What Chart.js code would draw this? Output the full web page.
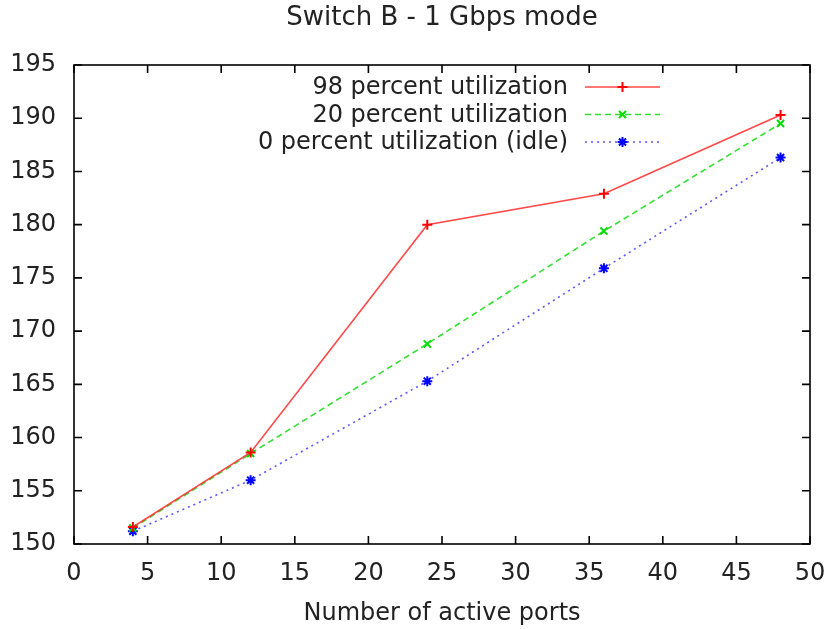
<!DOCTYPE html>
<html>
<head>
<meta charset="utf-8">
<script src="https://cdn.jsdelivr.net/npm/chart.js"></script>
<style>
  body { margin: 0; background: #fff; }
  #wrap { width: 830px; height: 629px; }
</style>
</head>
<body>
<div id="wrap"><canvas id="chart" width="830" height="629"></canvas></div>
<script>
// Données
const ports = [4, 12, 24, 36, 48];
const util98 = [151.6, 158.6, 180.0, 182.9, 190.3];
const util20 = [151.5, 158.5, 168.8, 179.4, 189.5];
const util0 = [151.2, 156.0, 165.3, 175.9, 186.3];
const seriesLabels = ['98 percent utilization', '20 percent utilization', '0 percent utilization (idle)'];
const titleText = 'Switch B - 1 Gbps mode';
const xTitle = 'Number of active ports';

const FONT = 'DejaVu Sans';
const TEXT_COLOR = '#222';

function toPoints(values) {
    return ports.map((p, i) => ({ x: p, y: values[i] }));
}

// Dessin d'un marqueur façon gnuplot (+, x, *)
function drawMarker(ctx, style, x, y, r, color) {
    ctx.save();
    ctx.strokeStyle = color;
    ctx.lineWidth = 2;
    ctx.setLineDash([]);
    ctx.beginPath();
    if (style === 'cross' || style === 'star') {
        ctx.moveTo(x - r, y); ctx.lineTo(x + r, y);
        ctx.moveTo(x, y - r); ctx.lineTo(x, y + r);
    }
    if (style === 'crossRot' || style === 'star') {
        const d = r * Math.SQRT1_2;
        ctx.moveTo(x - d, y - d); ctx.lineTo(x + d, y + d);
        ctx.moveTo(x - d, y + d); ctx.lineTo(x + d, y - d);
    }
    ctx.stroke();
    ctx.restore();
}

// Titre centré sur la zone de tracé (comme gnuplot)
const titlePlugin = {
    id: 'plotTitle',
    afterDraw(chart) {
        const { ctx, chartArea: a } = chart;
        ctx.save();
        ctx.font = `26px "${FONT}"`;
        ctx.fillStyle = TEXT_COLOR;
        ctx.textAlign = 'center';
        ctx.textBaseline = 'middle';
        ctx.fillText(titleText, (a.left + a.right) / 2, 18);
        ctx.restore();
    }
};

// Cadre et graduations intérieures (sur les 4 côtés)
const framePlugin = {
    id: 'frame',
    afterDraw(chart) {
        const { ctx, chartArea: a, scales } = chart;
        const tl = 8;
        ctx.save();
        ctx.strokeStyle = '#000';
        ctx.lineWidth = 1.6;
        ctx.strokeRect(a.left, a.top, a.right - a.left, a.bottom - a.top);
        ctx.beginPath();
        scales.x.ticks.forEach(t => {
            const px = scales.x.getPixelForValue(t.value);
            ctx.moveTo(px, a.bottom); ctx.lineTo(px, a.bottom - tl);
            ctx.moveTo(px, a.top); ctx.lineTo(px, a.top + tl);
        });
        scales.y.ticks.forEach(t => {
            const py = scales.y.getPixelForValue(t.value);
            ctx.moveTo(a.left, py); ctx.lineTo(a.left + tl, py);
            ctx.moveTo(a.right, py); ctx.lineTo(a.right - tl, py);
        });
        ctx.stroke();
        ctx.restore();
    }
};

// Légende à la gnuplot : texte aligné à droite, échantillon de ligne ensuite
const keyPlugin = {
    id: 'gnuKey',
    afterDraw(chart) {
        const { ctx } = chart;
        const textRight = 568;
        const lineStart = 585;
        const lineEnd = 660;
        const rows = [87, 114.5, 142];
        ctx.save();
        ctx.font = `24px "${FONT}"`;
        ctx.fillStyle = TEXT_COLOR;
        ctx.textAlign = 'right';
        ctx.textBaseline = 'middle';
        chart.data.datasets.forEach((ds, i) => {
            const y = rows[i];
            ctx.fillText(ds.label, textRight, y + 1);
            ctx.save();
            ctx.strokeStyle = ds.borderColor;
            ctx.lineWidth = ds.borderWidth;
            ctx.setLineDash(ds.borderDash || []);
            ctx.beginPath();
            ctx.moveTo(lineStart, y);
            ctx.lineTo(lineEnd, y);
            ctx.stroke();
            ctx.restore();
            drawMarker(ctx, ds.pointStyle, (lineStart + lineEnd) / 2, y, ds.pointRadius, ds.pointBorderColor);
        });
        ctx.restore();
    }
};

const ctx = document.getElementById('chart').getContext('2d');
new Chart(ctx, {
    type: 'line',
    data: {
        datasets: [
            {
                label: seriesLabels[0],
                data: toPoints(util98),
                borderColor: 'rgba(255, 40, 40, 0.85)',
                borderWidth: 1.6,
                pointStyle: 'cross',
                pointRadius: 5,
                pointBorderColor: '#ff0000',
                pointBorderWidth: 2
            },
            {
                label: seriesLabels[1],
                data: toPoints(util20),
                borderColor: 'rgba(30, 220, 30, 0.9)',
                borderWidth: 1.6,
                borderDash: [6, 4],
                pointStyle: 'crossRot',
                pointRadius: 5,
                pointBorderColor: '#00dd00',
                pointBorderWidth: 2
            },
            {
                label: seriesLabels[2],
                data: toPoints(util0),
                borderColor: 'rgba(60, 60, 255, 0.85)',
                borderWidth: 1.6,
                borderDash: [2, 4],
                pointStyle: 'star',
                pointRadius: 5,
                pointBorderColor: '#0000ff',
                pointBorderWidth: 2
            }
        ]
    },
    options: {
        responsive: false,
        animation: false,
        layout: { padding: { left: 0, right: 20, top: 65, bottom: 0 } },
        elements: { line: { tension: 0, fill: false } },
        plugins: {
            legend: { display: false },
            tooltip: { enabled: false },
            title: { display: false }
        },
        scales: {
            x: {
                type: 'linear',
                min: 0,
                max: 50,
                afterFit: scale => {
                    scale.height = 85;
                    scale.paddingLeft = 0;
                    scale.paddingRight = 0;
                },
                grid: { display: false, drawTicks: false },
                border: { display: false },
                ticks: {
                    stepSize: 5,
                    padding: 15,
                    color: TEXT_COLOR,
                    font: { family: FONT, size: 24 },
                    maxRotation: 0
                },
                title: {
                    display: true,
                    text: xTitle,
                    color: TEXT_COLOR,
                    font: { family: FONT, size: 24 },
                    padding: { top: 0, bottom: 1 }
                }
            },
            y: {
                min: 150,
                max: 195,
                afterFit: scale => {
                    scale.width = 74;
                    scale.paddingTop = 0;
                    scale.paddingBottom = 0;
                },
                grid: { display: false, drawTicks: false },
                border: { display: false },
                ticks: {
                    stepSize: 5,
                    padding: 18,
                    color: TEXT_COLOR,
                    font: { family: FONT, size: 24 }
                }
            }
        }
    },
    plugins: [titlePlugin, framePlugin, keyPlugin]
});
</script>
</body>
</html>
